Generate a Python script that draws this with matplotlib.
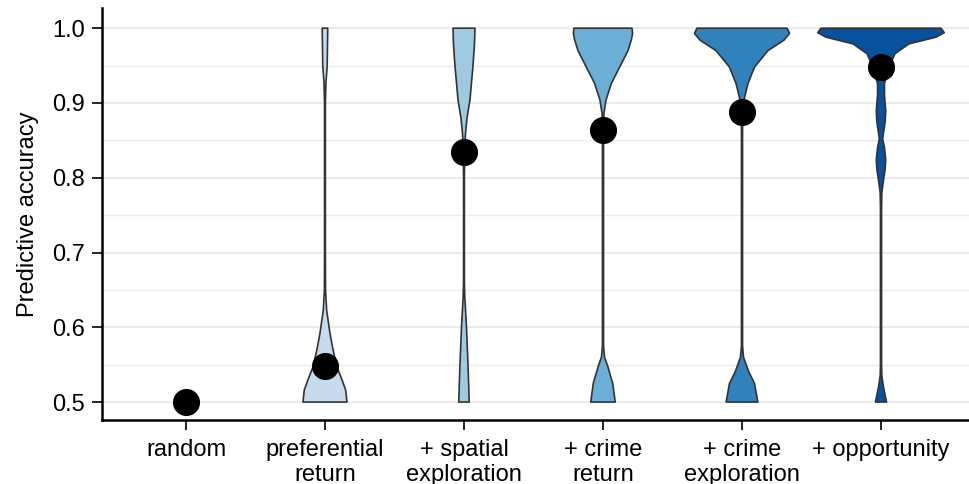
#!/usr/bin/env python3

import matplotlib
matplotlib.use('Agg')
import matplotlib.pyplot as plt
import matplotlib.ticker

# Categories, mean accuracy (black dots) and fill colours (Blues, 6 classes)
CATEGORIES = ['random', 'preferential\nreturn', '+ spatial\nexploration',
              '+ crime\nreturn', '+ crime\nexploration', '+ opportunity']
MEANS = [0.500, 0.548, 0.834, 0.864, 0.888, 0.948]
FILLS = ['#eff3ff', '#c6dbef', '#9ecae1', '#6baed6', '#3182bd', '#08519c']

# Violin outlines: accuracy level -> half width
# (in category units). 'random' has no violin (all values are 0.5).
PREF_Y = [0.500, 0.516, 0.530, 0.547, 0.570, 0.592, 0.610, 0.623, 0.650,
          0.700, 0.900, 0.927, 0.950, 1.000]
PREF_W = [0.158, 0.149, 0.122, 0.086, 0.058, 0.036, 0.022, 0.012, 0.004,
          0.003, 0.003, 0.007, 0.016, 0.020]

SPAT_Y = [0.500, 0.550, 0.600, 0.640, 0.660, 0.800, 0.840, 0.860, 0.880,
          0.904, 0.950, 0.980, 1.000]
SPAT_W = [0.038, 0.029, 0.018, 0.006, 0.003, 0.003, 0.006, 0.011, 0.022,
          0.043, 0.065, 0.076, 0.079]

CRET_Y = [0.500, 0.525, 0.548, 0.560, 0.575, 0.870, 0.886, 0.904, 0.926,
          0.948, 0.970, 0.985, 0.993, 1.000]
CRET_W = [0.088, 0.070, 0.034, 0.011, 0.004, 0.004, 0.007, 0.022, 0.060,
          0.120, 0.180, 0.205, 0.213, 0.209]

CEXP_Y = [0.500, 0.525, 0.540, 0.548, 0.560, 0.575, 0.880, 0.904, 0.926,
          0.948, 0.970, 0.984, 0.993, 1.000]
CEXP_W = [0.114, 0.090, 0.050, 0.034, 0.011, 0.004, 0.004, 0.014, 0.043,
          0.090, 0.187, 0.302, 0.342, 0.324]

OPP_Y = [0.500, 0.510, 0.520, 0.535, 0.550, 0.760, 0.780, 0.797, 0.810,
         0.824, 0.840, 0.852, 0.860, 0.875, 0.890, 0.910, 0.926, 0.948,
         0.966, 0.979, 0.988, 0.994, 1.000]
OPP_W = [0.040, 0.029, 0.018, 0.006, 0.004, 0.004, 0.006, 0.018, 0.029,
         0.034, 0.025, 0.012, 0.018, 0.030, 0.034, 0.025, 0.025, 0.058,
         0.101, 0.201, 0.396, 0.455, 0.432]

VIOLINS = {
    1: (PREF_Y, PREF_W),
    2: (SPAT_Y, SPAT_W),
    3: (CRET_Y, CRET_W),
    4: (CEXP_Y, CEXP_W),
    5: (OPP_Y, OPP_W),
}

plt.rcParams['font.family'] = ['Liberation Sans', 'DejaVu Sans']

fig = plt.figure(figsize=(9.69, 4.84), dpi=100)
ax = fig.add_axes([102 / 969, 64 / 484, 867 / 969, 412 / 484])

for pos, (ys, ws) in VIOLINS.items():
    left = [pos - w for w in ws]
    right = [pos + w for w in ws]
    xs = right + left[::-1] + [right[0]]
    yy = ys + ys[::-1] + [ys[0]]
    ax.fill(xs, yy, facecolor=FILLS[pos], edgecolor='#333333',
            linewidth=1.2, joinstyle='round', zorder=3)

ax.plot(range(len(MEANS)), MEANS, 'o', color='black', ms=18.5, mec='black',
        zorder=4)

ax.set_xlim(-0.604, 5.633)
ax.set_ylim(0.476, 1.027)

ax.yaxis.set_major_locator(matplotlib.ticker.MultipleLocator(0.1))
ax.yaxis.set_minor_locator(matplotlib.ticker.MultipleLocator(0.05))
ax.yaxis.set_major_formatter(matplotlib.ticker.FormatStrFormatter('%.1f'))
ax.grid(axis='y', which='major', color='#ebebeb', linewidth=1.4, zorder=0)
ax.grid(axis='y', which='minor', color='#ebebeb', linewidth=1.0, zorder=0)
ax.set_axisbelow(True)

ax.set_xticks(range(len(CATEGORIES)))
ax.set_xticklabels(CATEGORIES, linespacing=1.13)

for side in ['top', 'right']:
    ax.spines[side].set_visible(False)
for side in ['left', 'bottom']:
    ax.spines[side].set_linewidth(1.8)
    ax.spines[side].set_color('black')

ax.tick_params(axis='both', which='major', length=7, width=1.2,
               labelsize=17, colors='black')
ax.tick_params(axis='y', which='minor', length=0)
ax.tick_params(axis='y', pad=5)
ax.tick_params(axis='x', pad=7)

ax.set_ylabel('Predictive accuracy', fontsize=17, labelpad=10)

fig.savefig('out.png', dpi=100)
